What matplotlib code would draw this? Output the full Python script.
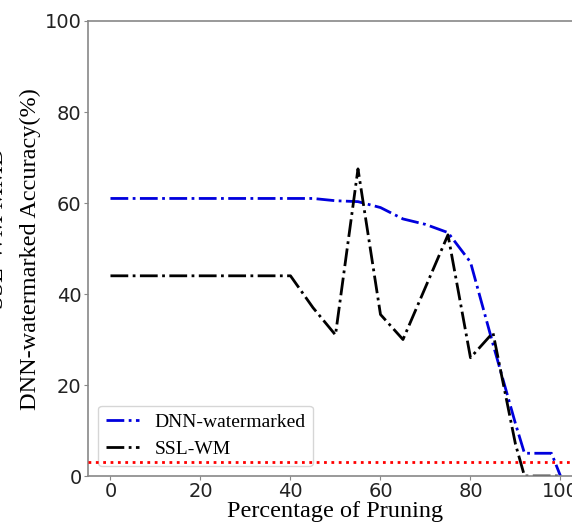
import matplotlib.pyplot as plt

# Data
pruning = [0, 5, 10, 15, 20, 25, 30, 35, 40, 45, 50, 55, 60, 65, 70, 75, 80, 85, 90, 92, 95, 98, 100]
dnn_acc = [61, 61, 61, 61, 61, 61, 61, 61, 61, 61, 60.5, 60.3, 59, 56.5, 55.3, 53.5, 47, 29, 11.5, 5, 5, 5, 0]

ssl_x = [0, 5, 10, 15, 20, 25, 30, 35, 40, 45, 50, 55, 60, 65, 70, 75, 80, 85, 90, 92, 95, 100]
ssl_wm = [44, 44, 44, 44, 44, 44, 44, 44, 44, 37, 31, 67.5, 35.5, 30, 41.5, 53, 26, 31.5, 7, 0, 0, 0]

threshold = 3

fig = plt.figure(figsize=(5.72, 5.25), dpi=100)
ax = fig.add_axes([0.1538, 0.0933, 0.8654, 0.8667])

ax.plot(pruning, dnn_acc, linestyle="-.", color="#0000dd", linewidth=2, label="DNN-watermarked")
ax.plot(ssl_x, ssl_wm, linestyle="-.", color="black", linewidth=2, label="SSL-WM")
ax.axhline(threshold, color="red", linestyle=":", linewidth=2, zorder=6)

ax.set_xlim(-5, 105)
ax.set_ylim(0, 100)
ax.set_xticks([0, 20, 40, 60, 80, 100])
ax.set_yticks([0, 20, 40, 60, 80, 100])
ax.tick_params(labelsize=14, colors="#222222", length=3, pad=1.5)
ax.tick_params(color="#888888")
for spine in ax.spines.values():
    spine.set_color("#888888")
    spine.set_linewidth(1.2)

ax.set_xlabel("Percentage of Pruning", fontsize=17.5, family="Liberation Serif", labelpad=0)

fig.text(0.054, 0.526, "DNN-watermarked Accuracy(%)", rotation=90, fontsize=17.5,
         family="Liberation Serif", ha="center", va="center")
fig.text(-0.004, 0.566, "SSL-WM MMD", rotation=90, fontsize=17.5,
         family="Liberation Serif", ha="center", va="center")

ax.legend(loc="lower left", bbox_to_anchor=(0.02, 0.022), borderaxespad=0,
          prop={"family": "Liberation Serif", "size": 14}, handlelength=1.7)

plt.savefig("out.png", dpi=100)
